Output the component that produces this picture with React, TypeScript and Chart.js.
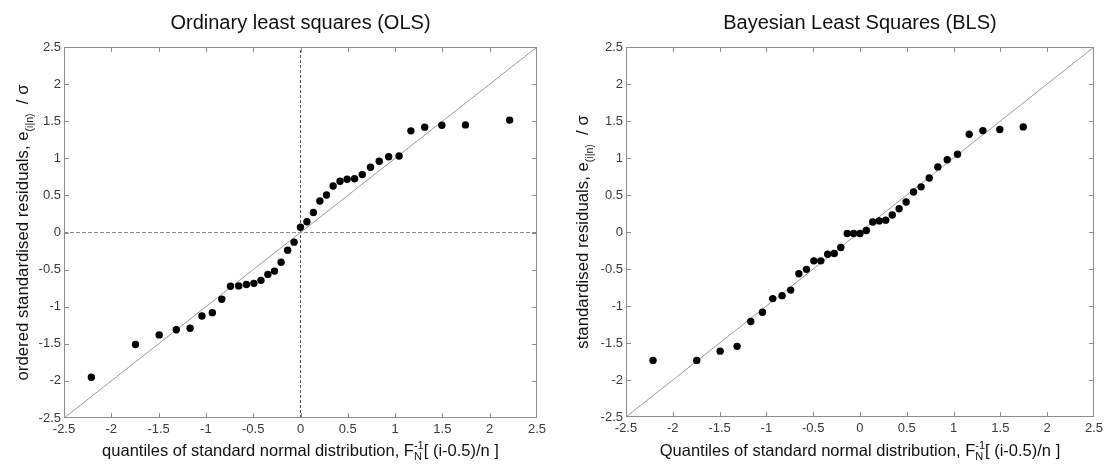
import { useEffect, useRef } from "react";
import { Chart, registerables } from "chart.js";

Chart.register(...registerables);

// Normal quantiles F_N^-1[(i-0.5)/n] read along the x axis (n = 37)
const quantiles = [
  -2.211, -1.744, -1.494, -1.313, -1.167, -1.042, -0.932, -0.832, -0.74, -0.653,
  -0.572, -0.493, -0.418, -0.345, -0.275, -0.205, -0.136, -0.068, 0.0, 0.068,
  0.136, 0.205, 0.275, 0.345, 0.418, 0.493, 0.572, 0.653, 0.74, 0.832, 0.932,
  1.042, 1.167, 1.313, 1.494, 1.744, 2.211,
];

// Ordinary least squares residuals (ordered)
const olsResiduals = [
  -1.95, -1.51, -1.38, -1.31, -1.29, -1.125, -1.08, -0.9, -0.725, -0.72, -0.7,
  -0.685, -0.645, -0.565, -0.52, -0.4, -0.24, -0.13, 0.07, 0.145, 0.27, 0.425,
  0.505, 0.627, 0.69, 0.717, 0.725, 0.78, 0.88, 0.96, 1.02, 1.03, 1.37, 1.42,
  1.445, 1.45, 1.515,
];

// Bayesian least squares residuals
const blsResiduals = [
  -1.735, -1.735, -1.61, -1.545, -1.21, -1.085, -0.9, -0.86, -0.785, -0.565,
  -0.505, -0.39, -0.39, -0.3, -0.29, -0.21, -0.02, -0.02, -0.02, 0.02, 0.135,
  0.15, 0.16, 0.23, 0.315, 0.405, 0.54, 0.61, 0.73, 0.88, 0.977, 1.05, 1.32,
  1.37, 1.385, 1.42,
];

const axisRange = [-2.5, 2.5];
const tickValues = [-2.5, -2, -1.5, -1, -0.5, 0, 0.5, 1, 1.5, 2, 2.5];
const tickLabels = ["-2.5", "-2", "-1.5", "-1", "-0.5", "0", "0.5", "1", "1.5", "2", "2.5"];

const panelTitles = ["Ordinary least squares (OLS)", "Bayesian Least Squares (BLS)"];
const yTitleMain = ["ordered standardised residuals, e", "standardised residuals, e"];
const yTitleSub = "(i|n)";
const yTitleEnd = "  / \u03c3";
const xTitleMain = [
  "quantiles of standard normal distribution, F",
  "Quantiles of standard normal distribution, F",
];
const xTitleSup = "-1";
const xTitleSub = "N";
const xTitleEnd = "[ (i-0.5)/n ]";

const FONT = '"Liberation Sans", Arial, Helvetica, sans-serif';

type Panel = {
  title: string;
  yMain: string;
  xMain: string;
  residuals: number[];
  zeroLines: boolean;
  canvasLeft: number;
  canvasWidth: number;
  yAxisWidth: number;
  rightPad: number;
  xAxisHeight: number;
  yTitleBaseX: number;
};

const panels: Panel[] = [
  {
    title: panelTitles[0],
    yMain: yTitleMain[0],
    xMain: xTitleMain[0],
    residuals: olsResiduals,
    zeroLines: true,
    canvasLeft: 0,
    canvasWidth: 560,
    yAxisWidth: 64,
    rightPad: 23,
    xAxisHeight: 48,
    yTitleBaseX: 28,
  },
  {
    title: panelTitles[1],
    yMain: yTitleMain[1],
    xMain: xTitleMain[1],
    residuals: blsResiduals,
    zeroLines: false,
    canvasLeft: 560,
    canvasWidth: 547,
    yAxisWidth: 66,
    rightPad: 9,
    xAxisHeight: 49,
    yTitleBaseX: 28,
  },
];

function PanelChart({ p }: { p: Panel }) {
  const ref = useRef<HTMLCanvasElement | null>(null);
  useEffect(() => {
    if (!ref.current) return;
    const lo = axisRange[0];
    const hi = axisRange[1];
    const points = p.residuals.map((y, i) => ({ x: quantiles[i], y }));
    const datasets: any[] = [
      {
        data: points,
        backgroundColor: "#000",
        borderWidth: 0,
        pointRadius: 3.7,
        showLine: false,
      },
      {
        data: [
          { x: lo, y: lo },
          { x: hi, y: hi },
        ],
        showLine: true,
        borderColor: "#9a9a9a",
        borderWidth: 1,
        pointRadius: 0,
      },
    ];
    if (p.zeroLines) {
      datasets.push({
        data: [
          { x: lo, y: 0 },
          { x: hi, y: 0 },
        ],
        showLine: true,
        borderColor: "#8a8a8a",
        borderWidth: 1,
        borderDash: [4, 2],
        pointRadius: 0,
      });
      datasets.push({
        data: [
          { x: 0, y: lo },
          { x: 0, y: hi },
        ],
        showLine: true,
        borderColor: "#555",
        borderWidth: 1,
        borderDash: [3, 2],
        pointRadius: 0,
      });
    }

    const drawRich = (
      ctx: CanvasRenderingContext2D,
      parts: { t: string; size: number; dy: number; stack?: { t: string; size: number; dy: number } }[]
    ) => {
      let total = 0;
      const widths: number[] = [];
      for (const part of parts) {
        ctx.font = `${part.size}px ${FONT}`;
        let w = ctx.measureText(part.t).width;
        if (part.stack) {
          ctx.font = `${part.stack.size}px ${FONT}`;
          w = Math.max(w, ctx.measureText(part.stack.t).width);
        }
        widths.push(w);
        total += w;
      }
      let x = -total / 2;
      parts.forEach((part, i) => {
        ctx.font = `${part.size}px ${FONT}`;
        ctx.fillText(part.t, x, part.dy);
        if (part.stack) {
          ctx.font = `${part.stack.size}px ${FONT}`;
          ctx.fillText(part.stack.t, x, part.stack.dy);
        }
        x += widths[i];
      });
    };

    const decor = {
      id: "decor",
      afterDraw(chart: any) {
        const ctx: CanvasRenderingContext2D = chart.ctx;
        const a = chart.chartArea;
        const xs = chart.scales.x;
        const ys = chart.scales.y;
        ctx.save();
        // box
        ctx.strokeStyle = "#8c8c8c";
        ctx.lineWidth = 1;
        ctx.setLineDash([]);
        ctx.strokeRect(Math.round(a.left) + 0.5, Math.round(a.top) + 0.5, Math.round(a.right - a.left) - 1, Math.round(a.bottom - a.top) - 1);
        // inward ticks
        const tl = 5;
        ctx.beginPath();
        for (const v of tickValues) {
          if (v === lo || v === hi) continue;
          const px = Math.round(xs.getPixelForValue(v)) + 0.5;
          ctx.moveTo(px, a.bottom);
          ctx.lineTo(px, a.bottom - tl);
          ctx.moveTo(px, a.top);
          ctx.lineTo(px, a.top + tl);
          const py = Math.round(ys.getPixelForValue(v)) + 0.5;
          ctx.moveTo(a.left, py);
          ctx.lineTo(a.left + tl, py);
          ctx.moveTo(a.right, py);
          ctx.lineTo(a.right - tl, py);
        }
        ctx.stroke();

        ctx.fillStyle = "#111";
        ctx.textBaseline = "alphabetic";
        ctx.textAlign = "left";
        const cx = (a.left + a.right) / 2;
        const cy = (a.top + a.bottom) / 2;
        // panel title
        ctx.save();
        ctx.translate(cx, 29);
        drawRich(ctx, [{ t: p.title, size: 20, dy: 0 }]);
        ctx.restore();
        // x title
        ctx.save();
        ctx.translate(cx, 456);
        drawRich(ctx, [
          { t: p.xMain, size: 16.5, dy: 0 },
          { t: xTitleSup, size: 11, dy: -7, stack: { t: xTitleSub, size: 11, dy: 4 } },
          { t: xTitleEnd, size: 16.5, dy: 0 },
        ]);
        ctx.restore();
        // y title
        ctx.save();
        ctx.translate(p.yTitleBaseX, cy);
        ctx.rotate(-Math.PI / 2);
        drawRich(ctx, [
          { t: p.yMain, size: 16.8, dy: 0 },
          { t: yTitleSub, size: 10.5, dy: 5 },
          { t: yTitleEnd, size: 16.8, dy: 0 },
        ]);
        ctx.restore();
        ctx.restore();
      },
    };

    const axisCommon = (isX: boolean) => ({
      type: "linear" as const,
      min: lo,
      max: hi,
      afterBuildTicks: (s: any) => {
        s.ticks = tickValues.map((v) => ({ value: v }));
      },
      ticks: {
        callback: (v: any) => tickLabels[tickValues.indexOf(Number(v))] ?? "",
        font: { size: 13, family: FONT },
        color: "#3a3a3a",
        padding: isX ? 4 : 3,
        maxRotation: 0,
        autoSkip: false,
      },
      grid: { display: false, drawTicks: false },
      border: { display: false },
      afterFit: (s: any) => {
        if (isX) s.height = p.xAxisHeight;
        else s.width = p.yAxisWidth;
      },
    });

    const chart = new Chart(ref.current, {
      type: "scatter",
      data: { datasets },
      options: {
        animation: false,
        responsive: false,
        maintainAspectRatio: false,
        devicePixelRatio: 1,
        layout: { padding: { left: 0, right: p.rightPad, top: 47, bottom: 0 } },
        plugins: {
          legend: { display: false },
          tooltip: { enabled: false },
          title: { display: false },
        },
        scales: {
          x: axisCommon(true) as any,
          y: axisCommon(false) as any,
        },
      },
      plugins: [decor],
    });
    return () => chart.destroy();
  }, [p]);

  return (
    <canvas
      ref={ref}
      width={p.canvasWidth}
      height={466}
      style={{
        position: "absolute",
        left: p.canvasLeft,
        top: 0,
        width: p.canvasWidth,
        height: 466,
        display: "block",
      }}
    />
  );
}

export default function App() {
  return (
    <div
      style={{
        position: "fixed",
        left: 0,
        top: 0,
        width: 1107,
        height: 466,
        background: "#fff",
        overflow: "hidden",
      }}
    >
      {panels.map((p, i) => (
        <PanelChart key={i} p={p} />
      ))}
    </div>
  );
}
